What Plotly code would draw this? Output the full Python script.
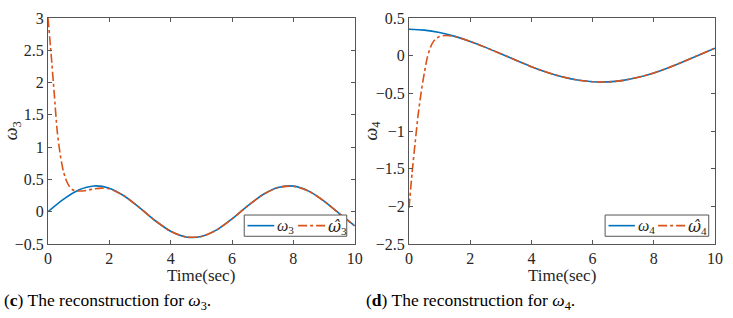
import plotly.graph_objects as go

# ---- data ----
t_true = [0, 0.5, 1.0, 1.5, 2.0, 2.5, 3.0, 3.5, 4.0, 4.5, 5.0, 5.5, 6.0, 6.5,
          7.0, 7.5, 8.0, 8.5, 9.0, 9.5, 10.0]
w3 = [0.0, 0.192, 0.337, 0.399, 0.364, 0.239, 0.056, -0.140, -0.303, -0.391,
      -0.384, -0.282, -0.112, 0.086, 0.263, 0.375, 0.396, 0.319, 0.165, -0.030, -0.218]
w4 = [0.35, 0.339, 0.307, 0.256, 0.189, 0.110, 0.025, -0.062, -0.146, -0.220,
      -0.280, -0.323, -0.346, -0.348, -0.328, -0.287, -0.229, -0.156, -0.074, 0.013, 0.099]

t_hat3 = [0, 0.1, 0.2, 0.3, 0.4, 0.5, 0.6, 0.7, 0.8, 0.9, 1.0, 1.25, 1.5, 1.75,
          2.0, 2.5, 3.0, 3.5, 4.0, 4.5, 5.0, 5.5, 6.0, 6.5, 7.0, 7.5, 8.0, 8.5,
          9.0, 9.5, 10.0]
w3_hat = [3.0, 2.45, 1.85, 1.25, 0.88, 0.63, 0.48, 0.39, 0.34, 0.32, 0.32, 0.33,
          0.355, 0.365, 0.355, 0.239, 0.056, -0.140, -0.303, -0.391, -0.384,
          -0.282, -0.112, 0.086, 0.263, 0.375, 0.396, 0.319, 0.165, -0.030, -0.218]

t_hat4 = [0, 0.1, 0.2, 0.3, 0.4, 0.5, 0.6, 0.7, 0.8, 0.9, 1.0, 1.2, 1.5, 2.0,
          2.5, 3.0, 3.5, 4.0, 4.5, 5.0, 5.5, 6.0, 6.5, 7.0, 7.5, 8.0, 8.5, 9.0,
          9.5, 10.0]
w4_hat = [-2.02, -1.56, -1.16, -0.78, -0.48, -0.23, -0.02, 0.11, 0.19, 0.23, 0.255,
          0.268, 0.255, 0.189, 0.110, 0.025, -0.062, -0.146, -0.220, -0.280,
          -0.323, -0.346, -0.348, -0.328, -0.287, -0.229, -0.156, -0.074, 0.013, 0.099]

x_ticks = [0, 2, 4, 6, 8, 10]
y3_ticks = [-0.5, 0, 0.5, 1, 1.5, 2, 2.5, 3]
y4_ticks = [-2.5, -2, -1.5, -1, -0.5, 0, 0.5]

names3 = ["<i>ω</i><sub>3</sub>", '<i><span style="font-family:DejaVu Serif">ω̂</span></i><sub>3</sub>']
names4 = ["<i>ω</i><sub>4</sub>", '<i><span style="font-family:DejaVu Serif">ω̂</span></i><sub>4</sub>']

BLUE = "#0072BD"
ORANGE = "#D95319"
SERIF = "Liberation Serif"
AX = "#555555"
TXT = "#262626"
W, H = 733, 318
ML, MR, MT, MB = 48, 13, 10, 74
PW = W - ML - MR
PH = H - MT - MB

def px_x(x):
    return (x - ML) / PW

def px_y(y):
    return (H - MB - y) / PH

fig = go.Figure()
fig.add_trace(go.Scatter(x=t_true, y=w3, mode="lines", name=names3[0],
                         line=dict(color=BLUE, width=1.6, shape="spline", smoothing=0.8),
                         xaxis="x", yaxis="y"))
fig.add_trace(go.Scatter(x=t_hat3, y=w3_hat, mode="lines", name=names3[1],
                         line=dict(color=ORANGE, width=1.6, dash="dashdot", shape="spline", smoothing=0.6),
                         xaxis="x", yaxis="y"))
fig.add_trace(go.Scatter(x=t_true, y=w4, mode="lines", name=names4[0],
                         line=dict(color=BLUE, width=1.6, shape="spline", smoothing=0.8),
                         xaxis="x2", yaxis="y2"))
fig.add_trace(go.Scatter(x=t_hat4, y=w4_hat, mode="lines", name=names4[1],
                         line=dict(color=ORANGE, width=1.6, dash="dashdot", shape="spline", smoothing=0.6),
                         xaxis="x2", yaxis="y2"))

axis_common = dict(showline=True, linecolor=AX, linewidth=1, mirror="ticks",
                   ticks="inside", ticklen=4, tickcolor=AX, showgrid=False,
                   zeroline=False, tickfont=dict(family=SERIF, size=16, color=TXT))

x1_dom = [0, px_x(357)]
x2_dom = [px_x(411.7), 1]
fig.update_layout(
    width=W, height=H, margin=dict(l=ML, r=MR, t=MT, b=MB),
    paper_bgcolor="white", plot_bgcolor="white", showlegend=False,
    xaxis=dict(domain=x1_dom, range=[0, 10], tickvals=x_ticks, anchor="y", **axis_common),
    yaxis=dict(domain=[0, 1], range=[-0.5, 3], tickvals=y3_ticks, anchor="x", **axis_common),
    xaxis2=dict(domain=x2_dom, range=[0, 10], tickvals=x_ticks, anchor="y2", **axis_common),
    yaxis2=dict(domain=[0, 1], range=[-2.5, 0.5], tickvals=y4_ticks, anchor="x2", **axis_common),
)

# ---- compact MATLAB-style legends (box, sample lines, labels) ----
def add_legend(box_l, box_r, items):
    top, bot, mid = 214, 236, 225
    fig.add_shape(type="rect", xref="paper", yref="paper",
                  x0=px_x(box_l), x1=px_x(box_r), y0=px_y(bot), y1=px_y(top),
                  line=dict(color=AX, width=1), fillcolor="white", layer="above")
    for (l0, l1, tx, name, color, dash) in items:
        fig.add_shape(type="line", xref="paper", yref="paper",
                      x0=px_x(l0), x1=px_x(l1), y0=px_y(mid), y1=px_y(mid),
                      line=dict(color=color, width=1.6, dash=dash), layer="above")
        fig.add_annotation(text=name, x=px_x(tx), y=px_y(mid + 1), xref="paper", yref="paper",
                           showarrow=False, xanchor="left", yanchor="middle",
                           font=dict(family=SERIF, size=16, color=TXT))

add_legend(245.7, 349, [(249, 276, 277, names3[0], BLUE, "solid"),
                         (300, 328, 328, names3[1], ORANGE, "dashdot")])
add_legend(609.3, 713.7, [(612.7, 639.3, 640, names4[0], BLUE, "solid"),
                           (662.7, 691, 691, names4[1], ORANGE, "dashdot")])

for cx in (202.5, 566):
    fig.add_annotation(text="Time(sec)", x=px_x(cx), y=px_y(277), xref="paper", yref="paper",
                       showarrow=False, xanchor="center", yanchor="middle",
                       font=dict(family=SERIF, size=17, color=TXT))
fig.add_annotation(text="<i>ω</i><sub>3</sub>", x=px_x(12), y=px_y(127), xref="paper", yref="paper",
                   showarrow=False, textangle=-90, xanchor="center", yanchor="middle",
                   font=dict(family=SERIF, size=18, color=TXT))
fig.add_annotation(text="<i>ω</i><sub>4</sub>", x=px_x(374), y=px_y(127), xref="paper", yref="paper",
                   showarrow=False, textangle=-90, xanchor="center", yanchor="middle",
                   font=dict(family=SERIF, size=18, color=TXT))
fig.add_annotation(text="(<b>c</b>) The reconstruction for <i>ω</i><sub>3</sub>.",
                   x=px_x(2), y=px_y(304), xref="paper", yref="paper", showarrow=False,
                   xanchor="left", yanchor="middle",
                   font=dict(family=SERIF, size=17.5, color="black"))
fig.add_annotation(text="(<b>d</b>) The reconstruction for <i>ω</i><sub>4</sub>.",
                   x=px_x(366), y=px_y(304), xref="paper", yref="paper", showarrow=False,
                   xanchor="left", yanchor="middle",
                   font=dict(family=SERIF, size=17.5, color="black"))

fig.write_html("out.html")
